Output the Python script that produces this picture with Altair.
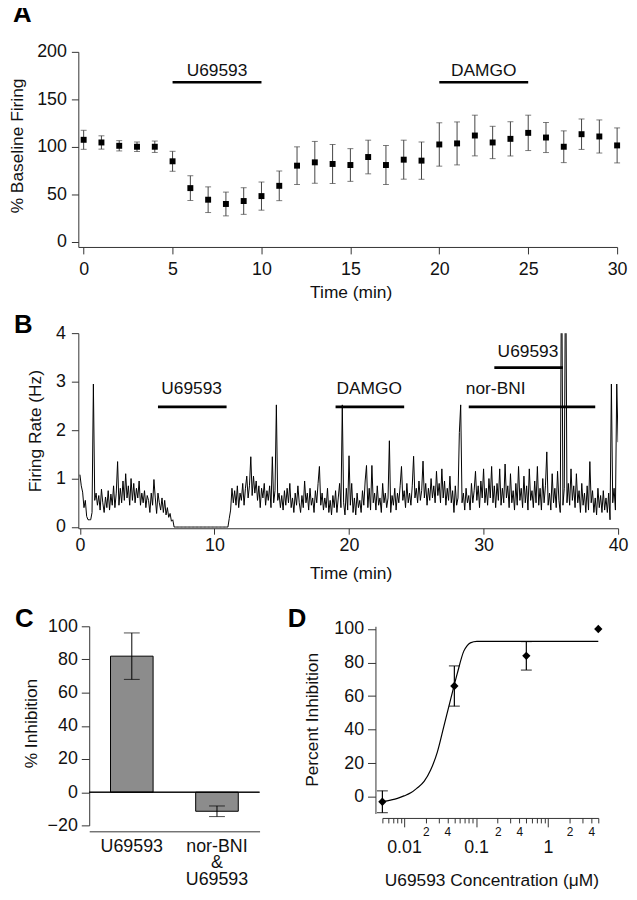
import altair as alt
import pandas as pd

FONT = "Liberation Sans"
TXT = "#111111"
AXC = "#333333"

# ---------------- Panel A data ----------------
A_time = list(range(31))
A_mean = [107.5, 104.7, 101.2, 100.2, 100.2, 84.9, 56.7, 44.5, 40.0, 43.1, 48.3,
          59.1, 80.3, 83.8, 82.1, 81.0, 89.4, 81.0, 86.6, 85.6, 102.6,
          103.7, 112.0, 104.7, 108.5, 114.8, 109.9, 100.2, 113.4, 111.0, 101.6]
A_sem = [10.0, 7.0, 5.4, 5.0, 6.0, 10.5, 13.0, 13.5, 12.5, 14.0, 14.8,
         15.6, 19.8, 22.0, 20.5, 17.2, 17.7, 20.5, 20.5, 19.6, 22.8,
         22.6, 21.4, 17.0, 18.0, 18.6, 15.8, 16.7, 16.0, 17.4, 18.4]
A_drug = ["U69593", "DAMGO"]
A_drug_start = [5, 20]
A_drug_end = [10, 25]
A_drug_level = [168, 168]
A_label_level = [180, 180]

# ---------------- Panel B data ----------------
B_sample_min = 0.1
B_rate = [
    1.08, 0.85, 0.72, 0.40, 0.55, 0.22, 0.15, 0.15, 0.15, 0.30,
    2.95, 0.55, 0.70, 0.45, 0.65, 0.35, 0.78, 0.50, 0.30, 0.62,
    0.40, 0.75, 0.35, 0.68, 0.45, 0.85, 0.40, 0.70, 1.35, 0.45,
    0.80, 0.50, 0.95, 0.55, 1.10, 0.60, 0.85, 0.45, 1.00, 0.55,
    0.90, 0.50, 0.80, 0.60, 0.95, 0.45, 0.70, 0.50, 0.75, 0.40,
    0.65, 0.55, 0.30, 0.70, 0.45, 0.98, 0.60, 0.28, 0.70, 0.50,
    0.35, 0.60, 0.30, 0.55, 0.25, 0.40, 0.20, 0.28, 0.12, 0.15,
    0.00, 0.00, 0.00, 0.00, 0.00, 0.00, 0.00, 0.00, 0.00, 0.00,
    0.00, 0.00, 0.00, 0.00, 0.00, 0.00, 0.00, 0.00, 0.00, 0.00,
    0.00, 0.00, 0.00, 0.00, 0.00, 0.00, 0.00, 0.00, 0.00, 0.00,
    0.00, 0.00, 0.00, 0.00, 0.00, 0.00, 0.00, 0.00, 0.00, 0.00,
    0.00, 0.18, 0.35, 0.80, 0.50, 0.75, 0.45, 0.85, 0.40, 0.70,
    0.55, 0.90, 0.45, 0.80, 1.05, 0.60, 0.85, 1.45, 0.65, 1.05,
    0.70, 0.95, 0.55, 0.85, 0.40, 0.80, 0.60, 0.90, 0.45, 0.75,
    0.55, 0.85, 0.40, 1.45, 0.50, 0.75, 2.52, 0.55, 0.70, 0.40,
    0.65, 0.35, 0.75, 0.45, 0.80, 0.50, 0.90, 0.40, 0.60, 0.30,
    0.70, 0.45, 0.85, 0.50, 0.30, 0.65, 0.40, 0.95, 0.50, 0.70,
    0.35, 0.80, 0.45, 0.60, 0.30, 0.75, 0.50, 0.90, 1.25, 0.45,
    0.70, 0.35, 0.60, 0.40, 0.80, 0.30, 0.55, 0.25, 0.65, 0.40,
    0.75, 0.30, 0.60, 0.90, 0.40, 2.52, 0.50, 0.25, 0.80, 0.35,
    1.47, 0.45, 0.90, 0.30, 0.60, 0.25, 0.70, 0.40, 0.55, 0.30,
    0.75, 0.45, 0.95, 1.27, 0.40, 0.80, 0.35, 1.27, 0.50, 0.70,
    0.35, 0.85, 0.45, 0.60, 0.30, 0.90, 0.50, 0.70, 0.40, 0.60,
    1.78, 0.30, 0.65, 0.45, 0.80, 0.35, 0.70, 0.50, 0.85, 1.25,
    0.55, 0.75, 0.40, 0.90, 0.50, 0.70, 0.45, 0.85, 1.46, 0.60,
    0.80, 0.50, 0.95, 0.55, 0.75, 1.36, 0.60, 0.90, 0.45, 0.80,
    0.55, 1.00, 0.60, 0.85, 0.50, 1.15, 0.65, 0.90, 0.50, 1.20,
    0.60, 0.95, 0.45, 0.80, 0.55, 1.05, 0.50, 0.75, 0.30, 0.85,
    0.45, 0.60, 1.95, 2.52, 0.50, 0.70, 0.35, 0.80, 0.50, 0.65,
    0.35, 0.90, 0.50, 0.75, 1.15, 0.55, 0.85, 0.40, 0.95, 0.60,
    1.20, 0.50, 0.80, 0.45, 1.00, 0.60, 1.25, 0.50, 0.85, 0.40,
    0.90, 0.55, 1.20, 0.45, 0.80, 0.50, 1.30, 0.60, 0.85, 0.40,
    1.10, 0.50, 0.75, 0.35, 0.90, 0.45, 1.25, 0.55, 0.80, 0.40,
    1.05, 0.50, 0.85, 0.35, 1.20, 0.55, 0.75, 0.40, 0.95, 0.50,
    1.25, 0.45, 0.80, 0.35, 1.00, 0.50, 0.85, 1.55, 0.45, 0.70,
    0.35, 1.10, 0.50, 0.80, 0.40, 1.15, 0.55, 0.30, 6.00, 0.45,
    0.80, 6.00, 0.50, 0.90, 0.45, 1.20, 0.55, 0.85, 0.40, 1.10,
    0.50, 0.75, 0.30, 0.90, 0.45, 0.70, 0.30, 0.85, 0.35, 1.35,
    0.50, 0.75, 0.30, 0.60, 0.25, 0.80, 0.40, 0.65, 0.30, 0.75,
    0.35, 0.60, 0.30, 0.70, 0.15, 2.95, 0.50, 0.80, 0.35, 2.95,
    1.75,
]
B_drug = ["U69593", "DAMGO", "nor-BNI", "U69593"]
B_drug_start = [5.8, 19.0, 28.9, 30.8]
B_drug_end = [10.9, 24.1, 38.3, 35.9]
B_drug_level = [2.48, 2.48, 2.48, 3.29]
B_label_x = [8.3, 21.5, 30.9, 33.3]
B_label_level = [2.84, 2.84, 2.84, 3.60]

# ---------------- Panel C data ----------------
C_cond = ["U69593", "nor-BNI|&|U69593"]
C_mean = [82.0, -11.5]
C_err = [14.0, 3.2]

# ---------------- Panel D data ----------------
D_conc = [0.005, 0.05, 0.5, 5.0]
D_pct = [-3.0, 66.0, 84.0, 100.0]
D_err = [6.5, 12.0, 8.5, 0.0]
D_fit_conc = [0.005, 0.0065, 0.0081, 0.01, 0.0124, 0.015, 0.019, 0.0234, 0.029,
              0.0358, 0.0442, 0.0547, 0.0676, 0.075, 0.0834, 0.103, 0.13, 0.2,
              0.5, 1.0, 5.0]
D_fit_pct = [-2.9, -2.0, -1.0, 0.5, 2.3, 5.0, 9.1, 15.9, 26.6,
             42.1, 57.7, 73.2, 86.8, 90.0, 91.7, 92.6, 92.6, 92.6,
             92.6, 92.6, 92.6]
D_major_ticks = [0.01, 0.1, 1]
D_minor_ticks = [0.005, 0.006, 0.007, 0.008, 0.009,
                 0.02, 0.03, 0.04, 0.05, 0.06, 0.07, 0.08, 0.09,
                 0.2, 0.3, 0.4, 0.5, 0.6, 0.7, 0.8, 0.9,
                 2, 3, 4, 5]

NO_FRAME = alt.ViewConfig(stroke="transparent", strokeWidth=0)


def axis(**kw):
    base = dict(labelFont=FONT, titleFont=FONT, labelFontSize=18, titleFontSize=17.5,
                labelColor=TXT, titleColor=TXT, domainColor=AXC, tickColor=AXC,
                domainWidth=1, tickWidth=1, grid=False, titleFontWeight="normal",
                labelOverlap=False, labelFlush=False)
    base.update(kw)
    return alt.Axis(**base)


def yaxis(title, values, tx, ty, **kw):
    return axis(title=title, values=values, titleX=tx, titleY=ty, titleAngle=270,
                titleAlign="center", titleBaseline="middle", **kw)


def xaxis(title, values, tx, ty, **kw):
    return axis(title=title, values=values, titleX=tx, titleY=ty,
                titleAlign="center", titleBaseline="middle", **kw)


def panel_title(letter, dx, dy):
    return alt.TitleParams(letter, anchor="start", frame="group", orient="top",
                           font=FONT, fontSize=26, fontWeight="bold", color="black",
                           dx=dx, dy=dy, offset=0, baseline="alphabetic")


def spacer(w, h):
    return alt.Chart(pd.DataFrame({"v": [0]})).mark_text(text="", opacity=0).encode(
        x=alt.value(0), y=alt.value(0)).properties(width=w, height=h, view=NO_FRAME)


# ---------------- Panel A ----------------
dfA = pd.DataFrame({"t": A_time, "pct": A_mean,
                    "lo": [m - s for m, s in zip(A_mean, A_sem)],
                    "hi": [m + s for m, s in zip(A_mean, A_sem)]})
dfA_drug = pd.DataFrame({"drug": A_drug, "start": A_drug_start, "end": A_drug_end,
                         "level": A_drug_level, "lab": A_label_level,
                         "mid": [(a + b) / 2 for a, b in zip(A_drug_start, A_drug_end)]})
scA_x = alt.Scale(domain=[-0.3, 30], nice=False, zero=False)
scA_y = alt.Scale(domain=[-5.2, 200], nice=False, zero=False)
axA_x = xaxis("Time (min)", [0, 5, 10, 15, 20, 25, 30], 275, 46, tickSize=7, labelPadding=7)
axA_y = yaxis("% Baseline Firing", [0, 50, 100, 150, 200], -61.7, 94.5, tickSize=7, labelPadding=5)


def xA(f):
    return alt.X(f"{f}:Q", scale=scA_x, axis=axA_x)


def yA(f):
    return alt.Y(f"{f}:Q", scale=scA_y, axis=axA_y)


a_err = alt.Chart(dfA).mark_rule(color="#444444", strokeWidth=1).encode(x=xA("t"), y=yA("lo"), y2="hi")
a_cap1 = alt.Chart(dfA).mark_tick(orient="horizontal", size=6, thickness=1, color="#444444").encode(x=xA("t"), y=yA("lo"))
a_cap2 = alt.Chart(dfA).mark_tick(orient="horizontal", size=6, thickness=1, color="#444444").encode(x=xA("t"), y=yA("hi"))
a_pts = alt.Chart(dfA).mark_square(size=36, color="black", opacity=1).encode(x=xA("t"), y=yA("pct"))
a_bar = alt.Chart(dfA_drug).mark_rule(color="black", strokeWidth=2.7).encode(x=xA("start"), x2="end", y=yA("level"))
a_lab = alt.Chart(dfA_drug).mark_text(font=FONT, fontSize=17.5, color=TXT, align="center", baseline="middle").encode(
    x=xA("mid"), y=yA("lab"), text="drug:N")
chartA = alt.layer(a_err, a_cap1, a_cap2, a_pts, a_bar, a_lab).properties(
    width=544, height=197, title=panel_title("A", -66, 5), view=NO_FRAME)

# ---------------- Panel B ----------------
dfB = pd.DataFrame({"t": [round(i * B_sample_min, 1) for i in range(len(B_rate))], "hz": B_rate})
dfB_drug = pd.DataFrame({"drug": B_drug, "start": B_drug_start, "end": B_drug_end,
                         "level": B_drug_level, "lx": B_label_x, "ly": B_label_level})
scB_x = alt.Scale(domain=[-0.12, 40], nice=False, zero=False)
scB_y = alt.Scale(domain=[-0.025, 4], nice=False, zero=False)
axB_x = xaxis("Time (min)", [0, 10, 20, 30, 40], 275, 46, tickSize=6, labelPadding=2)
axB_y = yaxis("Firing Rate (Hz)", [0, 1, 2, 3, 4], -43.3, 98.4, tickSize=7, labelPadding=6)


def xB(f):
    return alt.X(f"{f}:Q", scale=scB_x, axis=axB_x)


def yB(f):
    return alt.Y(f"{f}:Q", scale=scB_y, axis=axB_y)


b_line = alt.Chart(dfB).mark_line(color="black", strokeWidth=1, clip=True).encode(x=xB("t"), y=yB("hz"))
b_bar = alt.Chart(dfB_drug).mark_rule(color="black", strokeWidth=2.7).encode(x=xB("start"), x2="end", y=yB("level"))
b_lab = alt.Chart(dfB_drug).mark_text(font=FONT, fontSize=17.5, color=TXT, align="center", baseline="middle").encode(
    x=xB("lx"), y=yB("ly"), text="drug:N")
chartB = alt.layer(b_line, b_bar, b_lab).properties(
    width=545, height=197, title=panel_title("B", -65, 35), view=NO_FRAME)

# ---------------- Panel C ----------------
dfC = pd.DataFrame({"cond": C_cond, "val": C_mean,
                    "lo": [m - e for m, e in zip(C_mean, C_err)],
                    "hi": [m + e for m, e in zip(C_mean, C_err)]})
scC_x = alt.Scale(domain=C_cond, paddingInner=0.5, paddingOuter=0.25)
scC_y = alt.Scale(domain=[-20, 100], nice=False, zero=False)
axC_x = axis(title=None, labelAngle=0, ticks=False, offset=6, labelPadding=6,
             labelExpr="split(datum.label, '|')", labelLineHeight=17, labelBaseline="top")
axC_y = yaxis("% Inhibition", [-20, 0, 20, 40, 60, 80, 100], -58.4, 97.7, tickSize=8, labelPadding=4)


def xC():
    return alt.X("cond:N", scale=scC_x, axis=axC_x, sort=C_cond)


def yC(f):
    return alt.Y(f"{f}:Q", scale=scC_y, axis=axC_y)


c_bar = alt.Chart(dfC).mark_bar(color="#8c8c8c", stroke="black", strokeWidth=1).encode(x=xC(), y=yC("val"))
c_zero = alt.Chart(dfC).mark_rule(color="black", strokeWidth=1).encode(y=alt.datum(0, scale=scC_y, axis=axC_y))
c_err = alt.Chart(dfC).mark_rule(color="black", strokeWidth=1).encode(x=xC(), y=yC("lo"), y2="hi")
c_cap1 = alt.Chart(dfC).mark_tick(orient="horizontal", size=16, thickness=1, color="black").encode(x=xC(), y=yC("lo"))
c_cap2 = alt.Chart(dfC).mark_tick(orient="horizontal", size=16, thickness=1, color="black").encode(x=xC(), y=yC("hi"))
chartC = alt.layer(c_bar, c_zero, c_err, c_cap1, c_cap2).properties(
    width=172, height=201, title=panel_title("C", -75, 36), view=NO_FRAME)

# ---------------- Panel D ----------------
dfD = pd.DataFrame({"conc": D_conc, "pct": D_pct,
                    "lo": [m - e for m, e in zip(D_pct, D_err)],
                    "hi": [m + e for m, e in zip(D_pct, D_err)], "err": D_err})
dfD_err = dfD[dfD["err"] > 0]
dfD_fit = pd.DataFrame({"conc": D_fit_conc, "pct": D_fit_pct})
scD_x = alt.Scale(type="log", domain=[0.005, 5], nice=False)
scD_y = alt.Scale(domain=[-10, 101.6], nice=False, zero=False)
axD_x = xaxis("U69593 Concentration (\u03bcM)", D_major_ticks, 110, 63, tickSize=9, labelPadding=12,
              offset=4.5, orient="bottom", format="~g")
axD_minor = axis(title=None, values=D_minor_ticks, tickSize=5, labelPadding=4, labelFontSize=12,
                 offset=4.5, orient="bottom", format="~g", domain=False,
                 labelExpr="indexof(['0.02','0.04','0.2','0.4','2','4'], datum.label) >= 0 ? "
                           "substring(datum.label, length(datum.label) - 1) : ''")
axD_y = yaxis("Percent Inhibition", [0, 20, 40, 60, 80, 100], -64, 94, tickSize=8, labelPadding=4, offset=7)


def xD(f, ax=axD_x):
    return alt.X(f"{f}:Q", scale=scD_x, axis=ax)


def yD(f):
    return alt.Y(f"{f}:Q", scale=scD_y, axis=axD_y)


d_fit = alt.Chart(dfD_fit).mark_line(color="black", strokeWidth=1.2, interpolate="monotone").encode(
    x=xD("conc"), y=yD("pct"))
d_err = alt.Chart(dfD_err).mark_rule(color="black", strokeWidth=1.2).encode(x=xD("conc"), y=yD("lo"), y2="hi")
d_cap1 = alt.Chart(dfD_err).mark_tick(orient="horizontal", size=11, thickness=1.2, color="black").encode(
    x=xD("conc"), y=yD("lo"))
d_cap2 = alt.Chart(dfD_err).mark_tick(orient="horizontal", size=11, thickness=1.2, color="black").encode(
    x=xD("conc"), y=yD("hi"))
d_pts = alt.Chart(dfD).mark_point(shape="diamond", filled=True, size=70, color="black", opacity=1).encode(
    x=xD("conc"), y=yD("pct"))
d_main = alt.layer(d_fit, d_err, d_cap1, d_cap2, d_pts)
d_minor = alt.Chart(dfD).mark_point(opacity=0).encode(x=xD("conc", axD_minor), y=yD("pct"))
chartD = alt.layer(d_main, d_minor).resolve_axis(x="independent").properties(
    width=218, height=189, title=panel_title("D", -95.5, 33), view=NO_FRAME)

# ---------------- Layout ----------------
rowCD = alt.hconcat(spacer(11, 10), chartC, spacer(123.5, 10), chartD, spacing=0, bounds="flush")
chart = alt.vconcat(chartA, spacer(10, 87), chartB, spacer(10, 99), rowCD,
                    spacing=0, bounds="flush").properties(
    padding={"left": 0, "top": -11, "right": 0, "bottom": 0}
).configure_view(stroke="transparent", strokeWidth=0)

chart.save("out.html", embed_options={"renderer": "svg", "actions": False})
